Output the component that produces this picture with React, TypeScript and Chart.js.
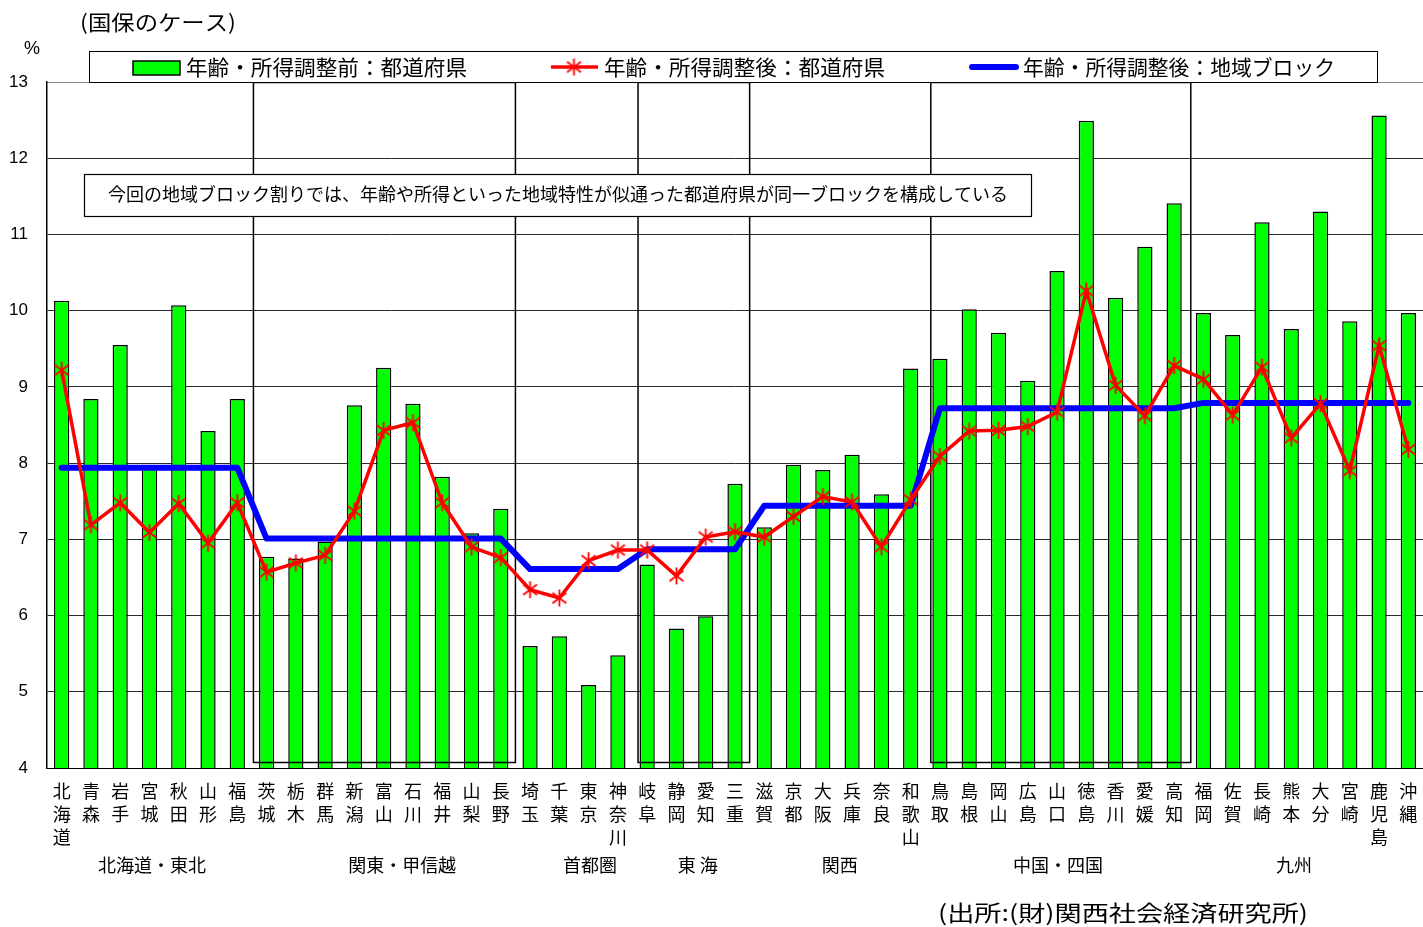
import { useEffect, useRef } from 'react';
import { Chart, registerables } from 'chart.js';

Chart.register(...registerables);

const prefectures = ['北海道', '青森', '岩手', '宮城', '秋田', '山形', '福島', '茨城', '栃木', '群馬', '新潟', '富山', '石川', '福井', '山梨', '長野', '埼玉', '千葉', '東京', '神奈川', '岐阜', '静岡', '愛知', '三重', '滋賀', '京都', '大阪', '兵庫', '奈良', '和歌山', '鳥取', '島根', '岡山', '広島', '山口', '徳島', '香川', '愛媛', '高知', '福岡', '佐賀', '長崎', '熊本', '大分', '宮崎', '鹿児島', '沖縄'];

const beforeAdjust = [10.13, 8.84, 9.55, 7.93, 10.07, 8.42, 8.84, 6.77, 6.75, 6.97, 8.76, 9.25, 8.78, 7.82, 7.08, 7.40, 5.60, 5.73, 5.09, 5.48, 6.67, 5.83, 5.99, 7.73, 7.16, 7.98, 7.91, 8.11, 7.59, 9.24, 9.37, 10.02, 9.71, 9.08, 10.52, 12.49, 10.17, 10.84, 11.41, 9.97, 9.68, 11.16, 9.76, 11.30, 9.86, 12.56, 9.97];

const afterAdjustPref = [9.22, 7.19, 7.48, 7.09, 7.47, 6.95, 7.48, 6.57, 6.69, 6.79, 7.37, 8.43, 8.53, 7.48, 6.90, 6.76, 6.34, 6.23, 6.72, 6.86, 6.86, 6.52, 7.03, 7.10, 7.03, 7.30, 7.56, 7.49, 6.90, 7.52, 8.09, 8.42, 8.43, 8.48, 8.67, 10.26, 9.02, 8.62, 9.28, 9.10, 8.63, 9.26, 8.33, 8.78, 7.90, 9.54, 8.18];

const blockNames = ['北海道・東北', '関東・甲信越', '首都圏', '東 海', '関西', '中国・四国', '九州'];
const blockStart = [0, 7, 16, 20, 24, 30, 39];
const blockEnd = [6, 15, 19, 23, 29, 38, 46];
const blockValues = [7.94, 7.01, 6.61, 6.87, 7.44, 8.72, 8.79];

const yTicks = [4, 5, 6, 7, 8, 9, 10, 11, 12, 13];

const legendLabels = ['年齢・所得調整前：都道府県', '年齢・所得調整後：都道府県', '年齢・所得調整後：地域ブロック'];
const titleText = '(国保のケース)';
const unitText = '%';
const noteText = '今回の地域ブロック割りでは、年齢や所得といった地域特性が似通った都道府県が同一ブロックを構成している';
const sourceText = '(出所:(財)関西社会経済研究所)';

// layout-only constants
const blockLabelPos = [3.09, 11.63, 18.05, 21.73, 26.58, 34.03, 42.09];
const boxedBlocks = [1, 3, 5];
const boxLeftAdj = [1.5, 5.5, 5.5];
const boxRightAdj = [0, 0, 2];

const JP = '"Noto Sans CJK JP", "Noto Sans", sans-serif';
const NUM = '"Liberation Sans", Arial, sans-serif';

const blockSeries = prefectures.map((_, i) => {
  const b = blockStart.findIndex((s, k) => i >= s && i <= blockEnd[k]);
  return blockValues[b];
});

function makeStar(size: number, color: string, lw: number) {
  const c = document.createElement('canvas');
  c.width = size;
  c.height = size;
  const ctx = c.getContext('2d')!;
  ctx.strokeStyle = color;
  ctx.lineWidth = lw;
  const m = size / 2;
  const r = size / 2 - 1;
  ctx.beginPath();
  ctx.moveTo(m, m - r);
  ctx.lineTo(m, m + r);
  const dx = r * 0.82;
  const dy = r * 0.62;
  ctx.moveTo(m - dx, m - dy);
  ctx.lineTo(m + dx, m + dy);
  ctx.moveTo(m - dx, m + dy);
  ctx.lineTo(m + dx, m - dy);
  ctx.stroke();
  return c;
}

function fitText(ctx: CanvasRenderingContext2D, text: string, x: number, y: number, width: number, font: string) {
  ctx.save();
  ctx.font = font;
  ctx.textAlign = 'left';
  ctx.textBaseline = 'middle';
  const w = ctx.measureText(text).width;
  const s = width / w;
  ctx.translate(x, y);
  ctx.scale(s, 1);
  ctx.fillStyle = '#000';
  ctx.fillText(text, 0, 0);
  ctx.restore();
}

export default function App() {
  const ref = useRef<HTMLCanvasElement>(null);

  useEffect(() => {
    const canvas = ref.current!;
    const star = makeStar(19, '#FF0000', 1.8);

    const boxesPlugin = {
      id: 'blockBoxes',
      afterDatasetDraw(chart: any, args: any) {
        if (args.index !== 0) return;
        const ctx = chart.ctx as CanvasRenderingContext2D;
        const x = chart.scales.x;
        const area = chart.chartArea;
        const half = (x.getPixelForValue(1) - x.getPixelForValue(0)) / 2;
        ctx.save();
        ctx.strokeStyle = '#000';
        ctx.lineWidth = 1.5;
        boxedBlocks.forEach((b, k) => {
          const l = x.getPixelForValue(blockStart[b]) - half + boxLeftAdj[k];
          const r = x.getPixelForValue(blockEnd[b]) + half + boxRightAdj[k];
          ctx.strokeRect(l, area.top + 0.5, r - l, area.bottom - 6 - area.top);
        });
        ctx.restore();
      },
    };

    const decorPlugin = {
      id: 'decor',
      afterDraw(chart: any) {
        const ctx = chart.ctx as CanvasRenderingContext2D;
        const x = chart.scales.x;
        ctx.save();
        // title & unit
        fitText(ctx, titleText, 80, 22, 156, `21px ${JP}`);
        ctx.font = `18px ${NUM}`;
        ctx.fillStyle = '#000';
        ctx.textAlign = 'center';
        ctx.textBaseline = 'middle';
        ctx.fillText(unitText, 32, 49);

        // legend box
        ctx.fillStyle = '#fff';
        ctx.fillRect(89.5, 51.5, 1288, 31);
        ctx.strokeStyle = '#000';
        ctx.lineWidth = 1;
        ctx.strokeRect(89.5, 51.5, 1288, 31);
        // green swatch
        ctx.fillStyle = '#00FF00';
        ctx.fillRect(133, 61, 47, 14);
        ctx.strokeStyle = '#000';
        ctx.lineWidth = 1.5;
        ctx.strokeRect(133, 61, 47, 14);
        fitText(ctx, legendLabels[0], 186, 67, 281, `21px ${JP}`);
        // red line
        ctx.strokeStyle = '#FF0000';
        ctx.lineWidth = 3.5;
        ctx.beginPath();
        ctx.moveTo(551, 67);
        ctx.lineTo(598, 67);
        ctx.stroke();
        ctx.drawImage(star, 574 - 9.5, 67 - 9.5);
        fitText(ctx, legendLabels[1], 604, 67, 281, `21px ${JP}`);
        // blue line
        ctx.strokeStyle = '#0000FF';
        ctx.lineWidth = 6;
        ctx.lineCap = 'round';
        ctx.beginPath();
        ctx.moveTo(972, 67);
        ctx.lineTo(1016, 67);
        ctx.stroke();
        ctx.lineCap = 'butt';
        fitText(ctx, legendLabels[2], 1023, 67, 312, `21px ${JP}`);

        // note box
        ctx.fillStyle = '#fff';
        ctx.fillRect(84.5, 174.5, 947, 42);
        ctx.strokeStyle = '#000';
        ctx.lineWidth = 1.2;
        ctx.strokeRect(84.5, 174.5, 947, 42);
        ctx.fillStyle = '#000';
        ctx.font = `18px ${JP}`;
        ctx.textAlign = 'center';
        ctx.textBaseline = 'middle';
        ctx.fillText(noteText, 558, 194);

        // category labels (vertical stacked)
        ctx.font = `18px ${JP}`;
        ctx.textAlign = 'center';
        ctx.textBaseline = 'middle';
        prefectures.forEach((p, i) => {
          const px = x.getPixelForValue(i);
          Array.from(p).forEach((ch, j) => {
            ctx.fillText(ch, px, 791 + j * 23);
          });
        });

        // block labels
        blockNames.forEach((n, i) => {
          const px = x.getPixelForValue(blockLabelPos[i]);
          ctx.fillText(n, px, 865);
        });

        // source
        fitText(ctx, sourceText, 938, 913, 370, `22px ${JP}`);
        ctx.restore();
      },
    };

    const chart = new Chart(canvas, {
      type: 'bar',
      data: {
        labels: prefectures,
        datasets: [
          {
            type: 'bar',
            label: legendLabels[0],
            data: beforeAdjust,
            backgroundColor: '#00FF00',
            borderColor: '#000000',
            borderWidth: 1.5,
            barPercentage: 0.52,
            categoryPercentage: 1,
            order: 2,
          },
          {
            type: 'line',
            label: legendLabels[1],
            data: afterAdjustPref,
            borderColor: '#FF0000',
            borderWidth: 3.5,
            pointStyle: star as any,
            pointRadius: 9,
            tension: 0,
            order: 0,
          },
          {
            type: 'line',
            label: legendLabels[2],
            data: blockSeries,
            borderColor: '#0000FF',
            borderWidth: 6,
            borderCapStyle: 'round',
            borderJoinStyle: 'round',
            pointRadius: 0,
            tension: 0,
            order: 1,
          },
        ] as any,
      },
      options: {
        responsive: false,
        animation: false,
        layout: { autoPadding: false, padding: { top: 82, left: 0, right: 0, bottom: 0 } },
        plugins: {
          legend: { display: false },
          tooltip: { enabled: false },
          title: { display: false },
        },
        scales: {
          x: {
            offset: true,
            grid: { display: false },
            border: { display: true, color: '#000', width: 1 },
            ticks: { display: false },
            afterFit: (s: any) => {
              s.height = 927 - 768;
            },
          },
          y: {
            min: 4,
            max: 13,
            afterBuildTicks: (s: any) => {
              s.ticks = yTicks.map((v) => ({ value: v }));
            },
            grid: {
              drawTicks: false,
              color: (c: any) => (c.tick && c.tick.value === 13 ? '#8a8a8a' : '#2a2a2a'),
              lineWidth: 1,
            },
            border: { display: true, color: '#000', width: 1.5 },
            ticks: {
              padding: 19,
              color: '#000',
              font: { family: '"Liberation Sans", Arial, sans-serif', size: 17 },
            },
            afterFit: (s: any) => {
              s.width = 47;
            },
          },
        },
      },
      plugins: [boxesPlugin, decorPlugin],
    });

    return () => chart.destroy();
  }, []);

  return (
    <div style={{ position: 'absolute', left: 0, top: 0, width: 1423, height: 927, background: '#fff' }}>
      <canvas ref={ref} width={1423} height={927} style={{ display: 'block' }} />
    </div>
  );
}
